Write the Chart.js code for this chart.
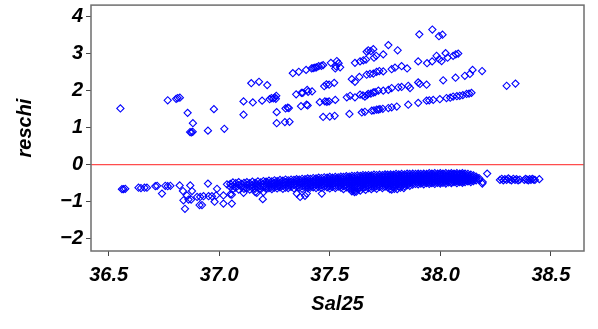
<!DOCTYPE html>
<html><head><meta charset="utf-8">
<script src="https://cdn.jsdelivr.net/npm/chart.js@4/dist/chart.umd.min.js"></script>
<style>html,body{margin:0;padding:0;background:#fff;overflow:hidden}#wrap{width:598px;height:329px;position:relative}</style>
</head><body><div id="wrap"><canvas id="c" width="598" height="329"></canvas></div>
<script>
const X_MIN = 36.42, X_MAX = 38.65, Y_MIN = -2.33, Y_MAX = 4.31;
const xTicks = [36.5, 37.0, 37.5, 38.0, 38.5];
const yTicks = [-2, -1, 0, 1, 2, 3, 4];
const xTitle = 'Sal25';
const yTitle = 'reschi';

// upper group of residuals [Sal25, reschi]
const upperPoints = [
[36.553,1.52],[36.767,1.74],[36.805,1.78],[36.812,1.80],[36.822,1.81],[36.857,1.40],[36.881,1.12],[36.868,0.88],[36.874,0.87],[36.880,0.89],[36.949,0.92],[36.976,1.50],[37.023,0.97],
[37.110,1.71],[37.152,1.68],[37.110,1.35],[37.145,2.20],[37.180,2.24],[37.217,2.15],[37.194,1.73],[37.228,1.77],[37.236,1.80],[37.245,1.79],[37.252,1.82],[37.258,1.86],[37.256,1.78],[37.260,1.42],[37.260,1.12],[37.297,1.15],[37.318,1.16],[37.300,1.52],[37.310,1.54],[37.315,1.53],
[37.333,2.47],[37.360,2.51],[37.393,2.56],[37.418,2.60],[37.425,2.61],[37.433,2.62],[37.440,2.63],[37.450,2.66],[37.462,2.67],[37.470,2.69],[37.505,2.75],[37.532,2.80],[37.540,2.74],[37.525,2.60],[37.528,2.66],[37.547,2.63],
[37.348,1.90],[37.372,1.94],[37.378,1.94],[37.398,2.02],[37.402,1.97],[37.420,1.98],
[37.370,1.58],[37.395,1.62],[37.400,1.60],
[37.455,1.69],[37.478,1.71],[37.487,1.70],[37.497,1.71],[37.525,1.75],
[37.475,2.12],[37.485,2.17],[37.497,2.16],[37.520,2.21],
[37.470,1.29],[37.500,1.30],[37.522,1.32],
[37.589,1.37],[37.645,1.41],[37.659,1.43],[37.690,1.46],[37.700,1.47],[37.712,1.49],[37.720,1.49],[37.727,1.50],[37.740,1.51],[37.765,1.53],[37.780,1.55],[37.803,1.57],[37.855,1.62],[37.900,1.67],[37.938,1.73],[37.950,1.74],[37.968,1.75],[37.998,1.77],[38.028,1.80],[38.045,1.81],[38.058,1.84],[38.075,1.85],[38.088,1.86],[38.102,1.88],[38.119,1.91],[38.130,1.92],[38.141,1.94],
[37.577,1.82],[37.592,1.86],[37.614,1.82],[37.637,1.89],[37.650,1.87],[37.659,1.84],[37.668,1.88],[37.674,1.91],[37.686,1.92],[37.697,1.95],[37.705,1.96],[37.720,2.00],[37.742,2.00],[37.765,2.02],[37.780,2.07],[37.810,2.09],[37.825,2.10],[37.855,2.13],[37.863,2.07],[37.900,2.22],[37.908,2.18],[37.938,2.16],[38.013,2.28],[38.069,2.35],[38.111,2.40],[38.134,2.45],[38.146,2.56],[38.189,2.53],
[37.600,2.31],[37.614,2.24],[37.634,2.37],[37.667,2.43],[37.682,2.45],[37.697,2.46],[37.712,2.51],[37.724,2.53],[37.742,2.52],[37.780,2.58],[37.795,2.62],[37.825,2.66],[37.850,2.60],[37.900,2.79],[37.940,2.74],[37.963,2.79],[37.983,2.94],[37.995,2.85],[38.006,2.80],[38.024,3.01],[38.033,2.89],[38.058,2.94],[38.070,2.98],[38.081,3.00],
[37.614,2.75],[37.637,2.79],[37.652,2.82],[37.664,2.84],[37.667,3.05],[37.674,3.09],[37.686,3.07],[37.697,3.12],[37.700,2.89],[37.710,2.94],[37.742,2.98],[37.765,3.23],[37.807,3.09],[37.905,3.52],[37.964,3.65],[37.994,3.47],[38.010,3.51],
[38.300,2.13],[38.340,2.19]
];

// sparse lower points (left tail and outliers below the band)
const lowerSparse = [
[36.560,-0.66],[36.567,-0.66],[36.575,-0.65],[36.635,-0.62],[36.646,-0.63],[36.662,-0.62],[36.673,-0.62],[36.711,-0.58],[36.719,-0.57],[36.741,-0.78],
[36.756,-0.57],[36.767,-0.58],[36.779,-0.57],[36.821,-0.56],[36.836,-0.71],[36.838,-0.96],[36.845,-1.19],[36.854,-0.83],[36.861,-0.94],[36.873,-0.94],
[36.869,-0.56],[36.877,-0.71],[36.900,-0.87],[36.914,-0.87],[36.911,-1.09],[36.922,-1.09],[36.929,-0.85],[36.949,-0.51],[36.952,-0.85],[36.967,-0.85],
[36.979,-1.00],[36.990,-0.65],[36.986,-0.83],[37.019,-0.83],[37.019,-1.05],[37.035,-0.53],[37.050,-0.80],[37.057,-1.05],[37.057,-0.81],
[37.110,-0.76],[37.170,-0.76],[37.163,-0.74],[37.197,-0.93],[37.200,-0.74],
[37.351,-0.78],[37.366,-0.87],[37.388,-0.84],[37.396,-0.78],[37.464,-0.78],
[37.600,-0.72],[37.612,-0.74],[37.620,-0.73],[37.772,-0.66],[37.780,-0.67],[37.792,-0.65],[37.805,-0.66],[37.820,-0.62],[37.835,-0.63],
[38.190,-0.51],[38.192,-0.47],[38.212,-0.24]
];

// dense lower band
const lowerBand = [
[37.050,-0.52],[37.050,-0.60],[37.062,-0.48],[37.062,-0.57],[37.062,-0.66],[37.075,-0.50],[37.075,-0.62],[37.088,-0.47],[37.088,-0.55],[37.088,-0.67],
[37.100,-0.52],[37.100,-0.60],[37.112,-0.49],[37.112,-0.58],[37.112,-0.65],[37.125,-0.47],[37.125,-0.54],[37.125,-0.63],[37.138,-0.50],[37.138,-0.59],[37.138,-0.67],
[37.150,-0.46],[37.150,-0.55],[37.150,-0.62],[37.162,-0.49],[37.162,-0.57],[37.162,-0.65],[37.175,-0.45],[37.175,-0.53],[37.175,-0.61],[37.188,-0.48],[37.188,-0.58],[37.188,-0.66],
[37.200,-0.44],[37.200,-0.52],[37.200,-0.60],
[37.212,-0.46],[37.212,-0.53],[37.212,-0.59],[37.212,-0.65],[37.225,-0.43],[37.225,-0.50],[37.225,-0.57],[37.225,-0.63],[37.238,-0.45],[37.238,-0.52],[37.238,-0.60],[37.238,-0.66],
[37.250,-0.42],[37.250,-0.49],[37.250,-0.56],[37.250,-0.62],[37.262,-0.44],[37.262,-0.51],[37.262,-0.58],[37.262,-0.64],[37.275,-0.41],[37.275,-0.48],[37.275,-0.55],[37.275,-0.61],
[37.288,-0.43],[37.288,-0.50],[37.288,-0.57],[37.288,-0.65],[37.300,-0.40],[37.300,-0.47],[37.300,-0.54],[37.300,-0.62],[37.312,-0.42],[37.312,-0.49],[37.312,-0.56],[37.312,-0.63],
[37.325,-0.40],[37.325,-0.46],[37.325,-0.53],[37.325,-0.60],[37.338,-0.41],[37.338,-0.48],[37.338,-0.55],[37.338,-0.64],[37.350,-0.39],[37.350,-0.45],[37.350,-0.52],[37.350,-0.59],
[37.362,-0.40],[37.362,-0.47],[37.362,-0.54],[37.362,-0.62],[37.375,-0.38],[37.375,-0.44],[37.375,-0.51],[37.375,-0.58],[37.375,-0.65],[37.388,-0.39],[37.388,-0.46],[37.388,-0.53],[37.388,-0.60],
[37.400,-0.37],[37.400,-0.43],[37.400,-0.50],[37.400,-0.57],[37.400,-0.63],
[37.412,-0.38],[37.412,-0.45],[37.412,-0.51],[37.412,-0.57],[37.412,-0.62],[37.425,-0.36],[37.425,-0.42],[37.425,-0.48],[37.425,-0.55],[37.425,-0.61],
[37.438,-0.37],[37.438,-0.44],[37.438,-0.50],[37.438,-0.56],[37.438,-0.63],[37.450,-0.35],[37.450,-0.41],[37.450,-0.47],[37.450,-0.53],[37.450,-0.60],
[37.462,-0.36],[37.462,-0.43],[37.462,-0.49],[37.462,-0.55],[37.462,-0.62],[37.475,-0.34],[37.475,-0.40],[37.475,-0.46],[37.475,-0.52],[37.475,-0.59],
[37.488,-0.35],[37.488,-0.42],[37.488,-0.48],[37.488,-0.54],[37.488,-0.61],[37.500,-0.33],[37.500,-0.39],[37.500,-0.45],[37.500,-0.51],[37.500,-0.58],[37.500,-0.64],
[37.512,-0.35],[37.512,-0.41],[37.512,-0.47],[37.512,-0.53],[37.512,-0.60],[37.525,-0.33],[37.525,-0.38],[37.525,-0.44],[37.525,-0.50],[37.525,-0.57],[37.525,-0.63],
[37.538,-0.34],[37.538,-0.40],[37.538,-0.46],[37.538,-0.52],[37.538,-0.59],[37.550,-0.32],[37.550,-0.37],[37.550,-0.43],[37.550,-0.49],[37.550,-0.56],[37.550,-0.62],
[37.562,-0.33],[37.562,-0.39],[37.562,-0.45],[37.562,-0.51],[37.562,-0.58],[37.562,-0.66],[37.575,-0.31],[37.575,-0.36],[37.575,-0.42],[37.575,-0.48],[37.575,-0.55],[37.575,-0.61],
[37.588,-0.32],[37.588,-0.38],[37.588,-0.44],[37.588,-0.50],[37.588,-0.57],[37.588,-0.64],[37.600,-0.30],[37.600,-0.35],[37.600,-0.41],[37.600,-0.47],[37.600,-0.54],[37.600,-0.60],[37.600,-0.67],
[37.612,-0.31],[37.612,-0.37],[37.612,-0.43],[37.612,-0.49],[37.612,-0.55],[37.612,-0.62],[37.612,-0.69],[37.625,-0.29],[37.625,-0.34],[37.625,-0.40],[37.625,-0.46],[37.625,-0.52],[37.625,-0.58],[37.625,-0.65],
[37.638,-0.30],[37.638,-0.36],[37.638,-0.42],[37.638,-0.48],[37.638,-0.54],[37.638,-0.61],[37.638,-0.70],[37.650,-0.28],[37.650,-0.33],[37.650,-0.39],[37.650,-0.45],[37.650,-0.51],[37.650,-0.57],[37.650,-0.64],
[37.662,-0.29],[37.662,-0.35],[37.662,-0.41],[37.662,-0.47],[37.662,-0.53],[37.662,-0.60],[37.662,-0.68],[37.675,-0.28],[37.675,-0.33],[37.675,-0.38],[37.675,-0.44],[37.675,-0.50],[37.675,-0.56],[37.675,-0.63],
[37.688,-0.29],[37.688,-0.35],[37.688,-0.40],[37.688,-0.46],[37.688,-0.52],[37.688,-0.59],[37.688,-0.66],[37.700,-0.27],[37.700,-0.32],[37.700,-0.38],[37.700,-0.43],[37.700,-0.49],[37.700,-0.55],[37.700,-0.62],
[37.712,-0.28],[37.712,-0.34],[37.712,-0.39],[37.712,-0.45],[37.712,-0.51],[37.712,-0.58],[37.712,-0.65],[37.725,-0.27],[37.725,-0.32],[37.725,-0.37],[37.725,-0.42],[37.725,-0.48],[37.725,-0.54],[37.725,-0.60],
[37.738,-0.28],[37.738,-0.33],[37.738,-0.39],[37.738,-0.44],[37.738,-0.50],[37.738,-0.57],[37.738,-0.63],[37.750,-0.26],[37.750,-0.31],[37.750,-0.36],[37.750,-0.41],[37.750,-0.47],[37.750,-0.53],[37.750,-0.59],
[37.762,-0.27],[37.762,-0.32],[37.762,-0.38],[37.762,-0.43],[37.762,-0.49],[37.762,-0.55],[37.762,-0.61],[37.775,-0.26],[37.775,-0.31],[37.775,-0.36],[37.775,-0.41],[37.775,-0.46],[37.775,-0.52],[37.775,-0.58],
[37.788,-0.27],[37.788,-0.32],[37.788,-0.37],[37.788,-0.43],[37.788,-0.48],[37.788,-0.54],[37.788,-0.60],[37.800,-0.25],[37.800,-0.30],[37.800,-0.35],[37.800,-0.40],[37.800,-0.46],[37.800,-0.51],[37.800,-0.57],
[37.812,-0.26],[37.812,-0.31],[37.812,-0.36],[37.812,-0.42],[37.812,-0.47],[37.812,-0.53],[37.812,-0.59],[37.825,-0.25],[37.825,-0.30],[37.825,-0.35],[37.825,-0.40],[37.825,-0.45],[37.825,-0.50],[37.825,-0.56],
[37.838,-0.26],[37.838,-0.31],[37.838,-0.36],[37.838,-0.41],[37.838,-0.47],[37.838,-0.52],[37.838,-0.58],[37.850,-0.24],[37.850,-0.29],[37.850,-0.34],[37.850,-0.39],[37.850,-0.44],[37.850,-0.49],[37.850,-0.55],
[37.862,-0.25],[37.862,-0.30],[37.862,-0.35],[37.862,-0.40],[37.862,-0.46],[37.862,-0.51],[37.862,-0.57],[37.875,-0.24],[37.875,-0.29],[37.875,-0.34],[37.875,-0.39],[37.875,-0.44],[37.875,-0.49],[37.875,-0.54],
[37.888,-0.25],[37.888,-0.30],[37.888,-0.35],[37.888,-0.41],[37.888,-0.46],[37.888,-0.52],[37.900,-0.24],[37.900,-0.28],[37.900,-0.33],[37.900,-0.38],[37.900,-0.43],[37.900,-0.48],[37.900,-0.53],
[37.912,-0.25],[37.912,-0.30],[37.912,-0.35],[37.912,-0.40],[37.912,-0.45],[37.912,-0.51],[37.925,-0.24],[37.925,-0.28],[37.925,-0.33],[37.925,-0.38],[37.925,-0.43],[37.925,-0.48],[37.925,-0.53],
[37.938,-0.25],[37.938,-0.29],[37.938,-0.34],[37.938,-0.39],[37.938,-0.44],[37.938,-0.50],[37.950,-0.23],[37.950,-0.28],[37.950,-0.33],[37.950,-0.38],[37.950,-0.43],[37.950,-0.48],[37.950,-0.52],
[37.962,-0.24],[37.962,-0.29],[37.962,-0.34],[37.962,-0.39],[37.962,-0.44],[37.962,-0.50],[37.975,-0.23],[37.975,-0.28],[37.975,-0.33],[37.975,-0.37],[37.975,-0.42],[37.975,-0.47],[37.975,-0.52],
[37.988,-0.24],[37.988,-0.29],[37.988,-0.34],[37.988,-0.39],[37.988,-0.44],[37.988,-0.49],[38.000,-0.23],[38.000,-0.27],[38.000,-0.32],[38.000,-0.37],[38.000,-0.42],[38.000,-0.47],[38.000,-0.51],
[38.012,-0.24],[38.012,-0.29],[38.012,-0.34],[38.012,-0.38],[38.012,-0.43],[38.012,-0.49],[38.025,-0.23],[38.025,-0.28],[38.025,-0.32],[38.025,-0.37],[38.025,-0.42],[38.025,-0.46],[38.025,-0.51],
[38.038,-0.24],[38.038,-0.29],[38.038,-0.33],[38.038,-0.38],[38.038,-0.43],[38.038,-0.48],[38.050,-0.23],[38.050,-0.27],[38.050,-0.32],[38.050,-0.36],[38.050,-0.41],[38.050,-0.46],[38.050,-0.50],
[38.062,-0.24],[38.062,-0.28],[38.062,-0.33],[38.062,-0.38],[38.062,-0.42],[38.062,-0.47],[38.075,-0.23],[38.075,-0.27],[38.075,-0.32],[38.075,-0.36],[38.075,-0.41],[38.075,-0.45],[38.075,-0.50],
[38.088,-0.24],[38.088,-0.28],[38.088,-0.33],[38.088,-0.37],[38.088,-0.42],[38.088,-0.47],[38.100,-0.23],[38.100,-0.27],[38.100,-0.31],[38.100,-0.36],[38.100,-0.40],[38.100,-0.45],[38.100,-0.49],
[38.112,-0.24],[38.112,-0.29],[38.112,-0.33],[38.112,-0.38],[38.112,-0.42],[38.112,-0.47],[38.125,-0.25],[38.125,-0.30],[38.125,-0.35],[38.125,-0.40],[38.125,-0.45],
[38.138,-0.27],[38.138,-0.32],[38.138,-0.37],[38.138,-0.42],[38.138,-0.47],[38.150,-0.29],[38.150,-0.34],[38.150,-0.39],[38.150,-0.44],[38.162,-0.32],[38.162,-0.37],[38.162,-0.42],[38.175,-0.36],[38.175,-0.41]
];

// right-hand cluster beyond the band
const rightCluster = [
[38.270,-0.41],[38.278,-0.38],[38.285,-0.42],[38.292,-0.39],[38.300,-0.41],[38.308,-0.37],[38.315,-0.40],[38.322,-0.42],[38.330,-0.38],[38.338,-0.41],[38.345,-0.39],[38.352,-0.42],[38.360,-0.40],
[38.380,-0.41],[38.386,-0.38],[38.392,-0.40],[38.398,-0.42],[38.404,-0.39],[38.410,-0.41],[38.416,-0.38],[38.422,-0.40],[38.428,-0.41],[38.448,-0.39]
];

const NARROW = "'Liberation Sans Narrow','Arial Narrow','Liberation Sans',Arial,sans-serif";
const REG = "'Liberation Sans',Arial,Helvetica,sans-serif";
const toXY = arr => arr.map(p => ({x: p[0], y: p[1]}));
const ptStyle = {type:'scatter', pointStyle:'rectRot', pointRadius:3.6, pointBorderWidth:1.1, pointBorderColor:'#0000ff', pointBackgroundColor:'rgba(0,0,0,0)', showLine:false};

const framePlugin = {
  id:'frame',
  afterDraw(chart){
    const {ctx, chartArea:a} = chart;
    ctx.save();
    ctx.strokeStyle = '#6e6e6e';
    ctx.lineWidth = 1.5;
    ctx.strokeRect(a.left, a.top, a.right - a.left, a.bottom - a.top);
    ctx.restore();
  }
};

new Chart(document.getElementById('c'), {
  type:'scatter',
  data:{datasets:[
    {type:'line', data:[{x:X_MIN,y:0},{x:X_MAX,y:0}], borderColor:'#ff2020', borderWidth:1, pointRadius:0, fill:false},
    Object.assign({data: toXY(upperPoints)}, ptStyle),
    Object.assign({data: toXY(lowerSparse)}, ptStyle),
    Object.assign({data: toXY(lowerBand)}, ptStyle),
    Object.assign({data: toXY(rightCluster)}, ptStyle)
  ]},
  options:{
    responsive:false, animation:false, devicePixelRatio:1, events:[],
    layout:{padding:{top:4, right:14, left:0, bottom:0}},
    plugins:{legend:{display:false}, tooltip:{enabled:false}},
    scales:{
      x:{type:'linear', min:X_MIN, max:X_MAX,
        afterBuildTicks(s){ s.ticks = xTicks.map(v => ({value:v})); },
        afterFit(s){ s.height = 78; s.paddingLeft = 0; s.paddingRight = 0; },
        ticks:{callback:v => Number(v).toFixed(1), color:'#000', padding:7, maxRotation:0, autoSkip:false,
          font:{family:NARROW, size:20, style:'italic', weight:'bold'}},
        grid:{drawOnChartArea:false, drawTicks:true, tickLength:5, tickColor:'#444', tickWidth:1},
        border:{display:false},
        title:{display:true, text:xTitle, color:'#000', padding:{top:0,bottom:13}, font:{family:NARROW, size:20, style:'italic', weight:'bold'}}
      },
      y:{type:'linear', min:Y_MIN, max:Y_MAX,
        afterBuildTicks(s){ s.ticks = yTicks.map(v => ({value:v})); },
        afterFit(s){ s.width = 91; s.paddingTop = 0; s.paddingBottom = 0; },
        ticks:{callback:v => v < 0 ? '\u2212' + Math.abs(v) : String(v), color:'#000', padding:3, autoSkip:false,
          font:{family:NARROW, size:20, style:'italic', weight:'bold'}},
        grid:{drawOnChartArea:false, drawTicks:true, tickLength:5, tickColor:'#444', tickWidth:1},
        border:{display:false},
        title:{display:true, text:yTitle, color:'#000', padding:{top:13,bottom:0}, font:{family:REG, size:20, style:'italic', weight:'bold'}}
      }
    }
  },
  plugins:[framePlugin]
});
</script>
</body></html>
